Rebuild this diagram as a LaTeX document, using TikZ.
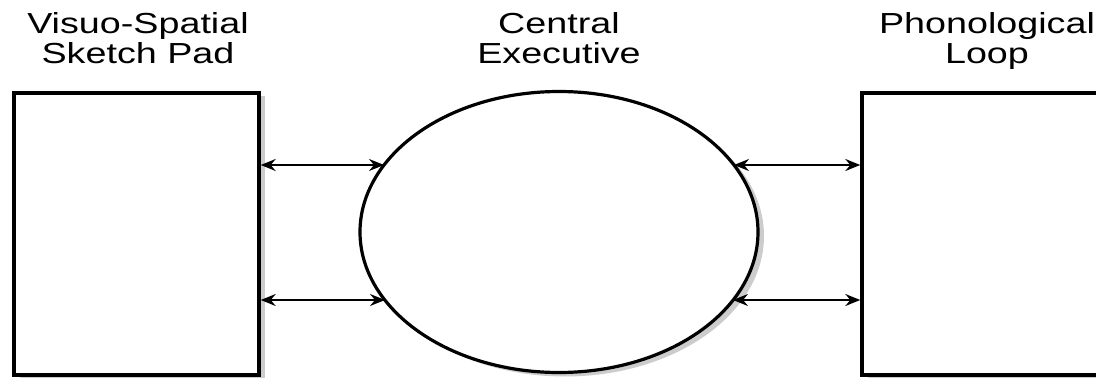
\documentclass[tikz,border=0pt]{standalone}
\usepackage{fontspec}
\setmainfont{Liberation Sans}
\usetikzlibrary{shapes.geometric,arrows.meta,calc}
\tikzset{
  compbox/.style={draw=black, line width=3.4pt, fill=white, minimum width=245pt, minimum height=282pt, inner sep=0pt},
  boxshadow/.style={fill=gray!40, draw=none, minimum width=245pt, minimum height=282pt, inner sep=0pt},
  exec/.style={ellipse, draw=black, line width=3.2pt, fill=white, minimum width=398pt, minimum height=281pt, inner sep=0pt},
  execshadow/.style={ellipse, fill=gray!40, draw=none, minimum width=398pt, minimum height=281pt, inner sep=0pt},
  label/.style={font=\fontsize{29}{30}\selectfont, align=center, xscale=1.3, transform shape, inner sep=0pt},
  link/.style={line width=1.8pt, {Stealth[length=15pt,width=12pt,inset=5pt]}-{Stealth[length=15pt,width=12pt,inset=5pt]}}
}
\begin{document}
\begin{tikzpicture}[x=1pt,y=-1pt]
\useasboundingbox (0,0) rectangle (1096,380);
% shadows
\node[boxshadow] (vss) at (142.5,236.5) {};
\node[execshadow] (ces) at (565,236) {};
\node[boxshadow] (pls) at (990.5,236.5) {};
% main shapes
\node[compbox] (vs) at (136.5,234) {};
\node[exec] (ce) at (559,232) {};
\node[compbox] (pl) at (984.5,234) {};
% points on the ellipse border
\coordinate (ceul) at ($(ce.center)+(-175,-67)$);
\coordinate (cell) at ($(ce.center)+(-174,68)$);
\coordinate (ceur) at ($(ce.center)+(175,-67)$);
\coordinate (celr) at ($(ce.center)+(174,68)$);
% labels
\node[label, anchor=base] (vst) at (138,63) {Visuo-Spatial\\Sketch Pad};
\node[label, anchor=base] (cet) at (559,63) {Central\\Executive};
\node[label, anchor=base] (plt) at (987,63) {Phonological\\Loop};
% connectors
\draw[link] (ceul -| vs.east) -- (ceul);
\draw[link] (cell -| vs.east) -- (cell);
\draw[link] (ceur) -- (ceur -| pl.west);
\draw[link] (celr) -- (celr -| pl.west);
\end{tikzpicture}
\end{document}
